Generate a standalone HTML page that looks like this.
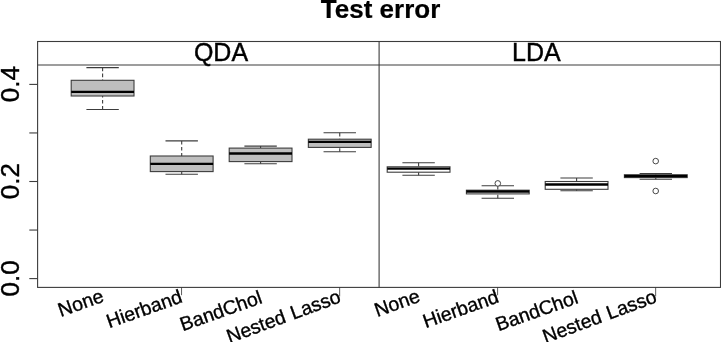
<!DOCTYPE html>
<html><head><meta charset="utf-8"><title>Test error</title>
<style>
html,body{margin:0;padding:0;background:#fff;}
svg{display:block;font-family:"Liberation Sans",sans-serif;fill:#000;}
text{stroke:#000;stroke-width:0.4px;}
text.b{stroke-width:0.2px;}
text.x{stroke-width:0.35px;}
</style></head><body>
<svg width="721" height="342" viewBox="0 0 721 342">
<rect width="721" height="342" fill="#fff"/>
<rect x="37.6" y="41.5" width="682.9" height="245.89999999999998" fill="none" stroke="#3c3c3c" stroke-width="1.1"/>
<line x1="37.6" y1="65" x2="720.5" y2="65" stroke="#3c3c3c" stroke-width="1.1"/>
<line x1="379.1" y1="41.5" x2="379.1" y2="287.4" stroke="#3c3c3c" stroke-width="1.1"/>
<line x1="29.3" y1="278.60" x2="37.6" y2="278.60" stroke="#3c3c3c" stroke-width="1.1"/>
<line x1="29.3" y1="230.05" x2="37.6" y2="230.05" stroke="#3c3c3c" stroke-width="1.1"/>
<line x1="29.3" y1="181.50" x2="37.6" y2="181.50" stroke="#3c3c3c" stroke-width="1.1"/>
<line x1="29.3" y1="132.95" x2="37.6" y2="132.95" stroke="#3c3c3c" stroke-width="1.1"/>
<line x1="29.3" y1="84.40" x2="37.6" y2="84.40" stroke="#3c3c3c" stroke-width="1.1"/>
<text transform="translate(19.3,278.30) rotate(-90)" text-anchor="middle" font-size="26">0.0</text>
<text transform="translate(19.3,181.20) rotate(-90)" text-anchor="middle" font-size="26">0.2</text>
<text transform="translate(19.3,84.10) rotate(-90)" text-anchor="middle" font-size="26">0.4</text>
<text x="380.6" y="18.2" text-anchor="middle" font-size="26" font-weight="bold" class="b">Test error</text>
<text x="221" y="61.3" text-anchor="middle" font-size="25">QDA</text>
<text x="536.4" y="61.3" text-anchor="middle" font-size="25">LDA</text>
<line x1="102.6" y1="67.6" x2="102.6" y2="80.3" stroke="#3c3c3c" stroke-width="1.1" stroke-dasharray="3.6,2.4"/>
<line x1="102.6" y1="109.5" x2="102.6" y2="96" stroke="#3c3c3c" stroke-width="1.1" stroke-dasharray="3.6,2.4"/>
<line x1="86.39999999999999" y1="67.6" x2="118.8" y2="67.6" stroke="#3c3c3c" stroke-width="1.1"/>
<line x1="86.39999999999999" y1="109.5" x2="118.8" y2="109.5" stroke="#3c3c3c" stroke-width="1.1"/>
<rect x="71.19999999999999" y="80.3" width="62.8" height="15.700000000000003" fill="#bebebe" stroke="#3c3c3c" stroke-width="1.1"/>
<line x1="71.19999999999999" y1="91.9" x2="134.0" y2="91.9" stroke="#000" stroke-width="2.4"/>
<line x1="181.7" y1="140.9" x2="181.7" y2="156.0" stroke="#3c3c3c" stroke-width="1.1" stroke-dasharray="3.6,2.4"/>
<line x1="181.7" y1="174.2" x2="181.7" y2="171.6" stroke="#3c3c3c" stroke-width="1.1" stroke-dasharray="3.6,2.4"/>
<line x1="165.5" y1="140.9" x2="197.89999999999998" y2="140.9" stroke="#3c3c3c" stroke-width="1.1"/>
<line x1="165.5" y1="174.2" x2="197.89999999999998" y2="174.2" stroke="#3c3c3c" stroke-width="1.1"/>
<rect x="150.29999999999998" y="156.0" width="62.8" height="15.599999999999994" fill="#bebebe" stroke="#3c3c3c" stroke-width="1.1"/>
<line x1="150.29999999999998" y1="163.9" x2="213.1" y2="163.9" stroke="#000" stroke-width="2.4"/>
<line x1="260.6" y1="146.1" x2="260.6" y2="148.1" stroke="#3c3c3c" stroke-width="1.1" stroke-dasharray="3.6,2.4"/>
<line x1="260.6" y1="163.8" x2="260.6" y2="161.6" stroke="#3c3c3c" stroke-width="1.1" stroke-dasharray="3.6,2.4"/>
<line x1="244.40000000000003" y1="146.1" x2="276.8" y2="146.1" stroke="#3c3c3c" stroke-width="1.1"/>
<line x1="244.40000000000003" y1="163.8" x2="276.8" y2="163.8" stroke="#3c3c3c" stroke-width="1.1"/>
<rect x="229.20000000000002" y="148.1" width="62.8" height="13.5" fill="#bebebe" stroke="#3c3c3c" stroke-width="1.1"/>
<line x1="229.20000000000002" y1="153.5" x2="292.0" y2="153.5" stroke="#000" stroke-width="2.4"/>
<line x1="339.75" y1="132.8" x2="339.75" y2="139.2" stroke="#3c3c3c" stroke-width="1.1" stroke-dasharray="3.6,2.4"/>
<line x1="339.75" y1="151.8" x2="339.75" y2="147.4" stroke="#3c3c3c" stroke-width="1.1" stroke-dasharray="3.6,2.4"/>
<line x1="323.55" y1="132.8" x2="355.95" y2="132.8" stroke="#3c3c3c" stroke-width="1.1"/>
<line x1="323.55" y1="151.8" x2="355.95" y2="151.8" stroke="#3c3c3c" stroke-width="1.1"/>
<rect x="308.35" y="139.2" width="62.8" height="8.200000000000017" fill="#bebebe" stroke="#3c3c3c" stroke-width="1.1"/>
<line x1="308.35" y1="141.9" x2="371.15" y2="141.9" stroke="#000" stroke-width="2.4"/>
<line x1="418.6" y1="162.8" x2="418.6" y2="166.8" stroke="#3c3c3c" stroke-width="1.1" stroke-dasharray="3.6,2.4"/>
<line x1="418.6" y1="175.2" x2="418.6" y2="172.2" stroke="#3c3c3c" stroke-width="1.1" stroke-dasharray="3.6,2.4"/>
<line x1="402.40000000000003" y1="162.8" x2="434.8" y2="162.8" stroke="#3c3c3c" stroke-width="1.1"/>
<line x1="402.40000000000003" y1="175.2" x2="434.8" y2="175.2" stroke="#3c3c3c" stroke-width="1.1"/>
<rect x="387.20000000000005" y="166.8" width="62.8" height="5.399999999999977" fill="#ffffff" stroke="#3c3c3c" stroke-width="1.1"/>
<line x1="387.20000000000005" y1="168.6" x2="450.0" y2="168.6" stroke="#000" stroke-width="2.4"/>
<line x1="497.8" y1="185.8" x2="497.8" y2="190.2" stroke="#3c3c3c" stroke-width="1.1" stroke-dasharray="3.6,2.4"/>
<line x1="497.8" y1="198.3" x2="497.8" y2="193.9" stroke="#3c3c3c" stroke-width="1.1" stroke-dasharray="3.6,2.4"/>
<line x1="481.6" y1="185.8" x2="514.0" y2="185.8" stroke="#3c3c3c" stroke-width="1.1"/>
<line x1="481.6" y1="198.3" x2="514.0" y2="198.3" stroke="#3c3c3c" stroke-width="1.1"/>
<rect x="466.40000000000003" y="190.2" width="62.8" height="3.700000000000017" fill="#ffffff" stroke="#3c3c3c" stroke-width="1.1"/>
<line x1="466.40000000000003" y1="191.5" x2="529.2" y2="191.5" stroke="#000" stroke-width="2.4"/>
<line x1="576.6" y1="178.0" x2="576.6" y2="181.5" stroke="#3c3c3c" stroke-width="1.1" stroke-dasharray="3.6,2.4"/>
<line x1="576.6" y1="190.8" x2="576.6" y2="189.3" stroke="#3c3c3c" stroke-width="1.1" stroke-dasharray="3.6,2.4"/>
<line x1="560.4" y1="178.0" x2="592.8000000000001" y2="178.0" stroke="#3c3c3c" stroke-width="1.1"/>
<line x1="560.4" y1="190.8" x2="592.8000000000001" y2="190.8" stroke="#3c3c3c" stroke-width="1.1"/>
<rect x="545.2" y="181.5" width="62.8" height="7.800000000000011" fill="#ffffff" stroke="#3c3c3c" stroke-width="1.1"/>
<line x1="545.2" y1="184.5" x2="608.0" y2="184.5" stroke="#000" stroke-width="2.4"/>
<line x1="655.8" y1="173.5" x2="655.8" y2="174.7" stroke="#3c3c3c" stroke-width="1.1" stroke-dasharray="3.6,2.4"/>
<line x1="655.8" y1="179.2" x2="655.8" y2="177.6" stroke="#3c3c3c" stroke-width="1.1" stroke-dasharray="3.6,2.4"/>
<line x1="639.5999999999999" y1="173.5" x2="672.0" y2="173.5" stroke="#3c3c3c" stroke-width="1.1"/>
<line x1="639.5999999999999" y1="179.2" x2="672.0" y2="179.2" stroke="#3c3c3c" stroke-width="1.1"/>
<rect x="624.4" y="174.7" width="62.8" height="2.9000000000000057" fill="#ffffff" stroke="#3c3c3c" stroke-width="1.1"/>
<line x1="624.4" y1="176.1" x2="687.1999999999999" y2="176.1" stroke="#000" stroke-width="2.4"/>
<circle cx="497.8" cy="183.4" r="2.8" fill="#fff" stroke="#333" stroke-width="0.9"/>
<circle cx="655.7" cy="161.1" r="2.8" fill="#fff" stroke="#333" stroke-width="0.9"/>
<circle cx="655.7" cy="191.0" r="2.8" fill="#fff" stroke="#333" stroke-width="0.9"/>
<text transform="translate(105.00,301.30) rotate(-19.5)" text-anchor="end" font-size="19.6" class="x">None</text>
<text transform="translate(183.50,302.00) rotate(-19.5)" text-anchor="end" font-size="19.4" class="x">Hierband</text>
<line x1="181.55" y1="287.4" x2="181.55" y2="295.2" stroke="#333" stroke-width="0.8"/>
<text transform="translate(263.40,302.70) rotate(-19.5)" text-anchor="end" font-size="19.5" class="x">BandChol</text>
<text transform="translate(341.90,301.90) rotate(-20.2)" text-anchor="end" font-size="19.4" class="x">Nested<tspan dx="1.2"> Lasso</tspan></text>
<line x1="339.65" y1="287.4" x2="339.65" y2="296.4" stroke="#333" stroke-width="0.8"/>
<text transform="translate(421.30,301.30) rotate(-19.5)" text-anchor="end" font-size="19.6" class="x">None</text>
<text transform="translate(500.00,302.00) rotate(-19.5)" text-anchor="end" font-size="19.4" class="x">Hierband</text>
<line x1="497.60" y1="287.4" x2="497.60" y2="295.2" stroke="#333" stroke-width="0.8"/>
<text transform="translate(579.30,302.70) rotate(-19.5)" text-anchor="end" font-size="19.5" class="x">BandChol</text>
<text transform="translate(657.90,301.90) rotate(-20.2)" text-anchor="end" font-size="19.4" class="x">Nested<tspan dx="1.2"> Lasso</tspan></text>
<line x1="655.65" y1="287.4" x2="655.65" y2="296.4" stroke="#333" stroke-width="0.8"/>
</svg>
</body></html>
